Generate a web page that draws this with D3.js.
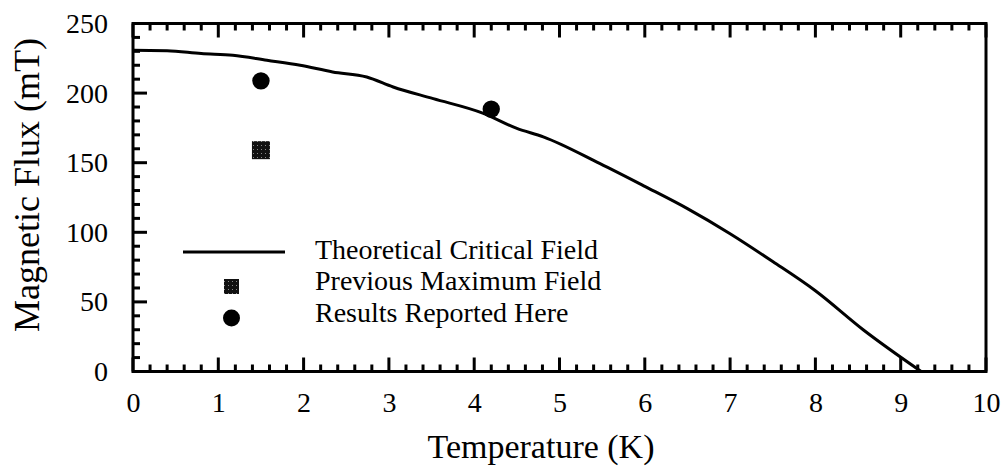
<!DOCTYPE html>
<html>
<head>
<meta charset="utf-8">
<script src="https://cdn.jsdelivr.net/npm/d3@7"></script>
<style>
  body { margin: 0; background: #fff; }
</style>
</head>
<body>
<div class="chart"></div>
<script>
// theoretical critical field curve
const curveTemp = [0, 0.4, 0.8, 1.17, 1.57, 1.96, 2.34, 2.74, 3.05, 3.52, 4.1, 4.5, 4.81, 5.47, 6, 6.5, 7, 7.5, 8, 8.56, 9.24];
const curveField = [230.7, 230.5, 228.4, 227.2, 223.6, 220, 215.2, 211.6, 204.4, 196, 185.6, 174.6, 168.6, 149.5, 133, 117, 99, 79, 58, 30, 0];

// previous maximum field (square) and results reported here (circles)
const prevTemp = [1.5];
const prevField = [159];
const resultTemp = [1.5, 4.2];
const resultField = [208.8, 188.5];

const xTicks = [0, 1, 2, 3, 4, 5, 6, 7, 8, 9, 10];
const yTicks = [0, 50, 100, 150, 200, 250];
const legendLabels = ['Theoretical Critical Field', 'Previous Maximum Field', 'Results Reported Here'];

const FONT = "'Liberation Serif', 'Times New Roman', serif";
const width = 1003;
const height = 468;
const margin = { top: 23.5, right: 17, bottom: 96.5, left: 133 };

const x = d3.scaleLinear().domain([0, 10]).range([margin.left, width - margin.right]);
const y = d3.scaleLinear().domain([0, 250]).range([height - margin.bottom, margin.top]);

const svg = d3
  .select('.chart')
  .append('svg')
  .attr('width', width)
  .attr('height', height);

svg.append('rect').attr('width', width).attr('height', height).attr('fill', '#fff');

// speckled fill for the square marker
const pat = svg
  .append('defs')
  .append('pattern')
  .attr('id', 'speckle')
  .attr('width', 4)
  .attr('height', 4)
  .attr('patternUnits', 'userSpaceOnUse');
pat.append('rect').attr('width', 4).attr('height', 4).attr('fill', '#111');
pat.append('rect').attr('x', 1).attr('y', 1).attr('width', 1).attr('height', 1).attr('fill', '#888');

const xMinor = d3.range(0, 10.01, 0.2).filter(d => Math.abs(d - Math.round(d)) > 0.01);
const yMinor = d3.range(0, 251, 10).filter(d => d % 50 !== 0);

const yBottom = y(0);
const yTop = y(250);

function styleAxis(g) {
  g.select('.domain').remove();
  g.selectAll('.tick line').remove();
  g.selectAll('.tick text').style('font-family', FONT).style('font-size', '28px').style('fill', '#000');
}

// tick labels
svg
  .append('g')
  .attr('transform', `translate(0,${yBottom})`)
  .call(d3.axisBottom(x).tickValues(xTicks).tickSize(0).tickPadding(21).tickFormat(d3.format('d')))
  .call(styleAxis);
svg
  .append('g')
  .attr('transform', `translate(${margin.left},0)`)
  .call(d3.axisLeft(y).tickValues(yTicks).tickSize(0).tickPadding(25).tickFormat(d3.format('d')))
  .call(styleAxis);

// inward tick marks (left, bottom, top)
const ticks = svg.append('g').style('stroke', '#000').style('stroke-width', '3px');
const xTickMarks = xTicks.map(v => ({ v, len: 14 })).concat(xMinor.map(v => ({ v, len: 7 })));
const yTickMarks = yTicks.map(v => ({ v, len: 14 })).concat(yMinor.map(v => ({ v, len: 7 })));

ticks
  .selectAll('.xb')
  .data(xTickMarks)
  .enter()
  .append('line')
  .attr('x1', d => x(d.v))
  .attr('x2', d => x(d.v))
  .attr('y1', yBottom)
  .attr('y2', d => yBottom - d.len);
ticks
  .selectAll('.xt')
  .data(xTickMarks)
  .enter()
  .append('line')
  .attr('x1', d => x(d.v))
  .attr('x2', d => x(d.v))
  .attr('y1', yTop)
  .attr('y2', d => yTop + d.len);
ticks
  .selectAll('.yl')
  .data(yTickMarks)
  .enter()
  .append('line')
  .attr('x1', margin.left)
  .attr('x2', d => margin.left + d.len)
  .attr('y1', d => y(d.v))
  .attr('y2', d => y(d.v));

// frame
svg
  .append('rect')
  .attr('x', x(0))
  .attr('y', yTop)
  .attr('width', x(10) - x(0))
  .attr('height', yBottom - yTop)
  .style('fill', 'none')
  .style('stroke', '#000')
  .style('stroke-width', '3px');

// curve
const curve = curveTemp.map((t, i) => ({ t, b: curveField[i] }));
const line = d3
  .line()
  .x(d => x(d.t))
  .y(d => y(d.b))
  .curve(d3.curveMonotoneX);

svg
  .append('path')
  .datum(curve)
  .attr('d', line)
  .style('fill', 'none')
  .style('stroke', '#000')
  .style('stroke-width', '3px');

// markers
svg
  .selectAll('.prev')
  .data(prevTemp.map((t, i) => ({ t, b: prevField[i] })))
  .enter()
  .append('rect')
  .attr('class', 'prev')
  .attr('x', d => x(d.t) - 9)
  .attr('y', d => y(d.b) - 9)
  .attr('width', 18)
  .attr('height', 18)
  .attr('fill', 'url(#speckle)');

svg
  .selectAll('.result')
  .data(resultTemp.map((t, i) => ({ t, b: resultField[i] })))
  .enter()
  .append('circle')
  .attr('class', 'result')
  .attr('cx', d => x(d.t))
  .attr('cy', d => y(d.b))
  .attr('r', 8.7)
  .attr('fill', '#000');

// legend
const legend = svg.append('g').attr('transform', 'translate(183,252)');
legend.append('line').attr('x1', 0).attr('x2', 102).attr('y1', 0).attr('y2', 0).style('stroke', '#000').style('stroke-width', '3px');
legend.append('rect').attr('x', 41).attr('y', 27).attr('width', 15).attr('height', 15).attr('fill', 'url(#speckle)');
legend.append('circle').attr('cx', 48.5).attr('cy', 66).attr('r', 8.5).attr('fill', '#000');
legend
  .selectAll('.label')
  .data(legendLabels)
  .enter()
  .append('text')
  .attr('class', 'label')
  .attr('x', 132)
  .attr('y', (d, i) => 6.5 + i * 31.7)
  .style('font-family', FONT)
  .style('font-size', '28px')
  .text(d => d);

// axis titles
svg
  .append('text')
  .attr('x', 541)
  .attr('y', 458)
  .attr('text-anchor', 'middle')
  .style('font-family', FONT)
  .style('font-size', '34px')
  .text('Temperature (K)');

svg
  .append('text')
  .attr('transform', 'translate(39,185) rotate(-90)')
  .attr('text-anchor', 'middle')
  .style('font-family', FONT)
  .style('font-size', '36px')
  .text('Magnetic Flux (mT)');
</script>
</body>
</html>
